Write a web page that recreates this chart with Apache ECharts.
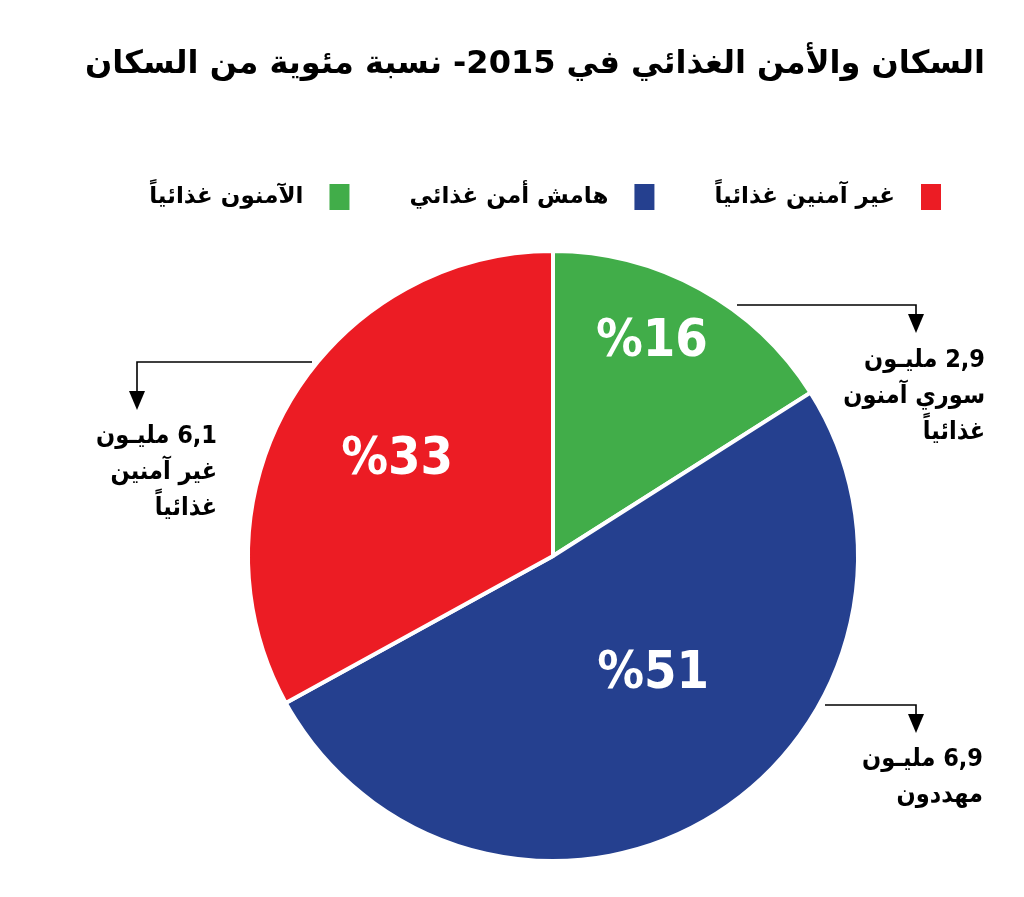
<!DOCTYPE html>
<html>
<head>
<meta charset="utf-8">
<script src="https://cdn.jsdelivr.net/npm/echarts@6/dist/echarts.min.js"></script>
<style>
html,body{margin:0;padding:0;background:#fff;}
#chart{width:1024px;height:897px;}
</style>
</head>
<body>
<div id="chart" dir="rtl"></div>
<script>
const titleText = 'السكان والأمن الغذائي في 2015- نسبة مئوية من السكان';
const categories = ['الآمنون غذائياً', 'هامش أمن غذائي', 'غير آمنين غذائياً'];
const shares = [16, 51, 33];
const millions = ['2,9', '6,9', '6,1'];
const calloutCaptions = [
  ['سوري آمنون', 'غذائياً'],
  ['مهددون'],
  ['غير آمنين', 'غذائياً']
];
const colors = ['#41ad49', '#25408f', '#ec1c24'];

const numFont = "'Liberation Sans Narrow', 'DejaVu Sans Condensed', 'DejaVu Sans', sans-serif";
const arFont = "'DejaVu Sans', sans-serif";

const labelOffsets = [[24, -77], [21, -15], [-22, -16]];

const pieData = categories.map((c, i) => ({
  name: c,
  value: shares[i],
  itemStyle: { color: colors[i] },
  label: { offset: labelOffsets[i] }
}));

function calloutText(i) {
  return [millions[i] + ' مليـون'].concat(calloutCaptions[i]).join('\n');
}

// callout annotation geometry (pixels)
const callouts = [
  { line: [[737, 305], [916, 305], [916, 316]], tip: [916, 333], tx: 985, ty: 342 },
  { line: [[825, 705], [916, 705], [916, 716]], tip: [916, 733], tx: 983, ty: 741 },
  { line: [[312, 362], [137, 362], [137, 392]], tip: [137, 410], tx: 217, ty: 418 }
];

const graphics = [];
callouts.forEach((c, i) => {
  graphics.push({
    type: 'polyline',
    shape: { points: c.line },
    style: { stroke: '#000', lineWidth: 1.6, fill: null }
  });
  graphics.push({
    type: 'polygon',
    shape: { points: [[c.tip[0] - 8, c.tip[1] - 19], [c.tip[0] + 8, c.tip[1] - 19], c.tip] },
    style: { fill: '#000' }
  });
  graphics.push({
    type: 'text',
    x: c.tx, y: c.ty,
    style: {
      text: calloutText(i),
      fill: '#000',
      font: 'bold 25px ' + numFont,
      align: 'right',
      verticalAlign: 'top',
      lineHeight: 36
    }
  });
});

const chart = echarts.init(document.getElementById('chart'));
chart.setOption({
  backgroundColor: '#fff',
  animation: false,
  title: {
    text: titleText,
    left: 530,
    textAlign: 'center',
    top: 44,
    textStyle: { fontSize: 32, fontWeight: 'bold', fontFamily: arFont, color: '#000' }
  },
  legend: {
    data: categories,
    right: 76,
    top: 177,
    icon: 'rect',
    itemWidth: 22,
    itemHeight: 28,
    itemGap: 58,
    align: 'right',
    textStyle: { fontSize: 23, fontWeight: 'bold', fontFamily: arFont, color: '#000', padding: [0, 20, 0, 0] }
  },
  graphic: graphics,
  series: [{
    type: 'pie',
    center: [553, 556],
    radius: 305,
    startAngle: 90,
    clockwise: true,
    silent: true,
    itemStyle: { borderColor: '#fff', borderWidth: 4 },
    label: {
      show: true,
      position: 'inside',
      formatter: p => '%' + p.value,
      color: '#fff',
      fontSize: 52,
      fontWeight: 'bold',
      fontFamily: numFont
    },
    labelLine: { show: false },
    data: pieData
  }]
});
</script>
</body>
</html>
